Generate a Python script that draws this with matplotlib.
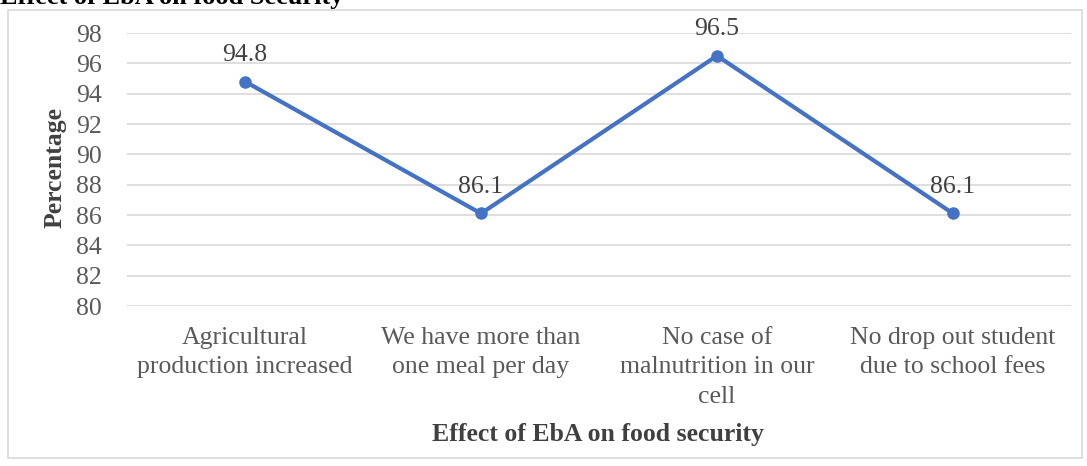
import matplotlib
matplotlib.use("Agg")
import matplotlib.pyplot as plt
from matplotlib.patches import Rectangle

categories = [
    "Agricultural\nproduction increased",
    "We have more than\none meal per day",
    "No case of\nmalnutrition in our\ncell",
    "No drop out student\ndue to school fees",
]
values = [94.8, 86.1, 96.5, 86.1]
yticks = [80, 82, 84, 86, 88, 90, 92, 94, 96, 98]

plt.rcParams["font.family"] = ["Liberation Serif", "DejaVu Serif"]

fig = plt.figure(figsize=(10.87, 4.66), dpi=100)
W, H = 1087, 466

# outer chart frame
fig.patches.append(Rectangle((8 / W, 1 - 458 / H), (1082 - 8) / W, (458 - 10) / H,
                             transform=fig.transFigure, fill=False,
                             edgecolor="#d9d9d9", linewidth=1.2))

ax = fig.add_axes([127 / W, 1 - 306 / H, (1071 - 127) / W, (306 - 33) / H])
x = list(range(len(categories)))
ax.plot(x, values, color="#4472C4", linewidth=3, marker="o", markersize=8, zorder=3)
for xi, v in zip(x, values):
    ax.annotate(f"{v}", (xi, v), xytext=(0, 11), textcoords="offset points",
                ha="center", va="bottom", fontsize=18.5, color="#404040")

ax.set_xlim(-0.5, len(categories) - 0.5)
ax.set_ylim(80, 98)
ax.set_yticks(yticks)
ax.set_yticklabels([str(t) for t in yticks], fontsize=18.5, color="#595959")
ax.set_xticks(x)
ax.set_xticklabels(categories, fontsize=18.5, color="#595959", linespacing=1.45, va="top")
ax.tick_params(axis="y", length=0, pad=18)
ax.tick_params(axis="x", length=0, pad=15)
ax.yaxis.grid(True, color="#d9d9d9", linewidth=1.2)
ax.set_axisbelow(True)
for s in ax.spines.values():
    s.set_visible(False)

fig.text(55 / W, 1 - 168 / H, "Percentage", rotation=90, ha="center", va="center",
         fontsize=18.5, fontweight="bold", color="#404040")
fig.text(598 / W, 1 - 434 / H, "Effect of EbA on food security", ha="center", va="center",
         fontsize=18.5, fontweight="bold", color="#404040")
fig.text(0, 1 - 4 / H, "Effect of EbA on food Security", ha="left", va="baseline",
         fontsize=19, fontweight="bold", color="black")

fig.savefig("out.png", dpi=100, facecolor="white")
